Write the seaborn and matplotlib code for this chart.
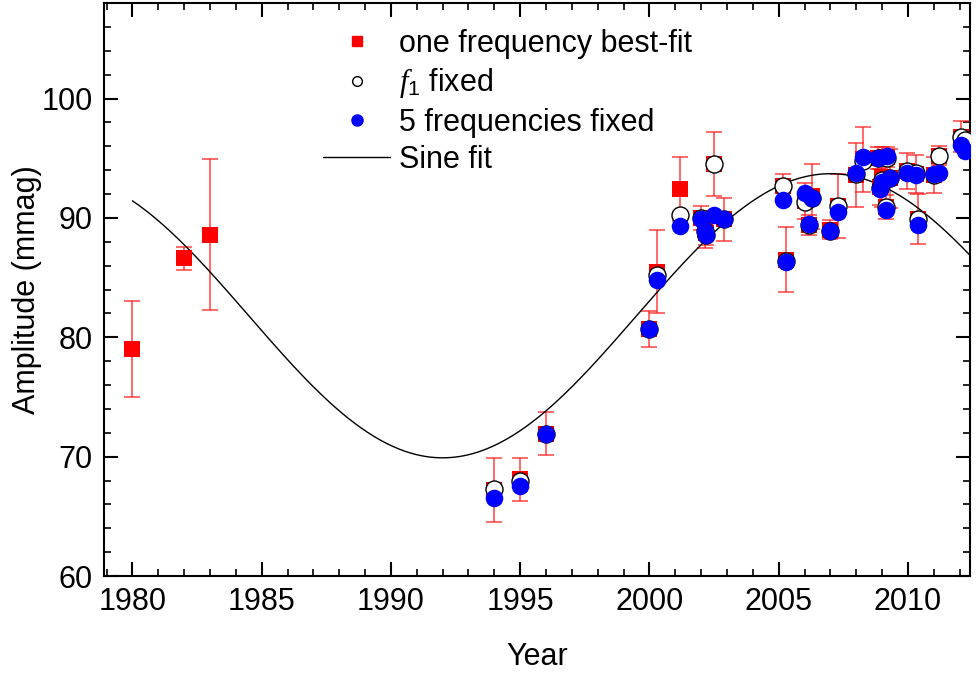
import numpy as np
import pandas as pd
import matplotlib
matplotlib.use("Agg")
import matplotlib.pyplot as plt
from matplotlib.lines import Line2D
from matplotlib.ticker import MultipleLocator
import seaborn as sns

# ---------------- data ----------------
early_years = [1980.0, 1982.0, 1983.0]
early_amp = [79.0, 86.6, 88.6]
early_err = [4.0, 1.0, 6.3]

years = [1994.0, 1995.0, 1996.0, 2000.0, 2000.3, 2001.2, 2002.0, 2002.13, 2002.2,
         2002.5, 2002.9, 2005.16, 2005.28, 2006.0, 2006.16, 2006.3, 2006.97, 2007.28,
         2007.99, 2008.28, 2008.85, 2008.92, 2009.0, 2009.15, 2009.18, 2009.3,
         2009.98, 2010.3, 2010.4, 2010.99, 2011.2, 2012.04, 2012.22]
one_freq = [67.2, 68.1, 71.9, 80.7, 85.5, 92.4, 90.0, 89.0, 88.7,
            94.5, 89.9, 92.7, 86.5, 91.4, 89.4, 91.8, 89.0, 91.0,
            93.6, 94.9, 95.0, 92.6, 93.4, 90.9, 95.1, 93.3,
            93.9, 93.7, 89.9, 93.6, 95.2, 96.8, 96.5]
one_freq_err = [2.7, 1.8, 1.8, 1.5, 3.5, 2.7, 1.0, 1.5, 1.0,
                2.7, 1.8, 1.0, 2.7, 1.5, 0.8, 2.7, 0.8, 2.7,
                2.7, 2.7, 0.9, 1.5, 2.5, 1.0, 0.8, 2.5,
                1.5, 1.6, 2.1, 1.5, 0.8, 1.3, 0.5]
f1_fixed = [67.3, 68.0, 71.9, 80.7, 85.2, 90.2, 90.0, 88.9, 88.6,
            94.5, 89.9, 92.7, 86.4, 91.3, 89.4, 91.7, 88.9, 91.0,
            93.7, 94.8, 95.0, 92.5, 93.2, 90.9, 95.0, 93.3,
            93.9, 93.8, 89.9, 93.6, 95.2, 96.8, 96.5]
five_freq = [66.5, 67.5, 71.9, 80.7, 84.8, 89.3, 89.9, 88.9, 88.6,
             90.2, 89.9, 91.5, 86.3, 92.1, 89.5, 91.7, 88.9, 90.5,
             93.8, 95.1, 95.0, 92.4, 93.0, 90.7, 95.2, 93.3,
             93.75, 93.6, 89.4, 93.7, 93.8, 96.1, 95.6]

# Sine fit parameters
sine_mean = 81.8
sine_amp = 11.9
sine_period = 30.0
sine_peak_year = 2007.0
sine_start, sine_end = 1980.0, 2012.4

# ---------------- figure ----------------
sns.set_theme(style="white")
plt.rcParams["font.family"] = ["Liberation Sans", "DejaVu Sans"]
plt.rcParams["mathtext.fontset"] = "custom"
plt.rcParams["mathtext.it"] = "Liberation Serif:italic"
plt.rcParams["mathtext.rm"] = "Liberation Sans"
plt.rcParams["mathtext.sf"] = "Liberation Sans"
for k in ["text.color", "axes.labelcolor", "xtick.color", "ytick.color", "axes.edgecolor"]:
    plt.rcParams[k] = "black"

fig = plt.figure(figsize=(9.79, 6.73), dpi=100)
ax = fig.add_axes([104 / 979, 1 - 576 / 673, (970 - 104) / 979, (576 - 3) / 673])

red_years = early_years + years
red_amp = early_amp + one_freq
red_err = early_err + one_freq_err

ax.errorbar(red_years, red_amp, yerr=red_err, fmt="none", ecolor="#ff2020",
            elinewidth=1.1, capsize=5.5, capthick=1.1, alpha=0.85, zorder=2)

xs = np.linspace(sine_start, sine_end, 400)
sine_df = pd.DataFrame({"x": xs,
                        "y": sine_mean + sine_amp * np.cos(2 * np.pi * (xs - sine_peak_year) / sine_period)})
sns.lineplot(data=sine_df, x="x", y="y", color="black", lw=1.0, ax=ax, zorder=3)

red_df = pd.DataFrame({"x": red_years, "y": red_amp})
sns.scatterplot(data=red_df, x="x", y="y", marker="s", s=120, color="#ff0000",
                edgecolor="#ff0000", linewidth=0, ax=ax, zorder=4)
f1_df = pd.DataFrame({"x": years, "y": f1_fixed})
sns.scatterplot(data=f1_df, x="x", y="y", marker="o", s=150, facecolor="white",
                edgecolor="black", linewidth=1.0, ax=ax, zorder=5)
blue_df = pd.DataFrame({"x": years, "y": five_freq})
sns.scatterplot(data=blue_df, x="x", y="y", marker="o", s=160, color="#0000ff",
                edgecolor="#0000ff", linewidth=0, ax=ax, zorder=6)

ax.set_xlim(1978.9, 2012.4)
ax.set_ylim(60, 108)
ax.xaxis.set_major_locator(MultipleLocator(5))
ax.xaxis.set_minor_locator(MultipleLocator(1))
ax.yaxis.set_major_locator(MultipleLocator(10))
ax.yaxis.set_minor_locator(MultipleLocator(2))
ax.tick_params(which="both", direction="in", top=True, right=True, bottom=True, left=True,
               color="black")
ax.tick_params(which="major", length=10, width=1.5, labelsize=22, pad=8)
ax.tick_params(which="minor", length=5, width=1.2)
ax.tick_params(axis="x", which="major", labeltop=False)
ax.tick_params(axis="y", which="major", labelright=False)
for sp in ax.spines.values():
    sp.set_color("black")
    sp.set_linewidth(1.5)

ax.set_xlabel("Year", fontsize=22, labelpad=18)
ax.set_ylabel("Amplitude (mmag)", fontsize=22, labelpad=0)

handles = [
    Line2D([], [], marker="s", color="none", markerfacecolor="#ff0000",
           markeredgecolor="#ff0000", markersize=7),
    Line2D([], [], marker="o", color="none", markerfacecolor="white",
           markeredgecolor="black", markersize=7),
    Line2D([], [], marker="o", color="none", markerfacecolor="#0000ff",
           markeredgecolor="#0000ff", markersize=8),
    Line2D([], [], color="black", lw=1.0),
]
labels = ["one frequency best-fit", r"$f_\mathsf{1}$ fixed", "5 frequencies fixed", "Sine fit"]
fig.legend(handles, labels, loc="upper left", bbox_to_anchor=(323 / 979, 1 - 29 / 673),
           frameon=False, fontsize=22, handlelength=2.2, handletextpad=0.28,
           labelspacing=0.24, borderpad=0, borderaxespad=0)

fig.savefig("out.png", dpi=100)
